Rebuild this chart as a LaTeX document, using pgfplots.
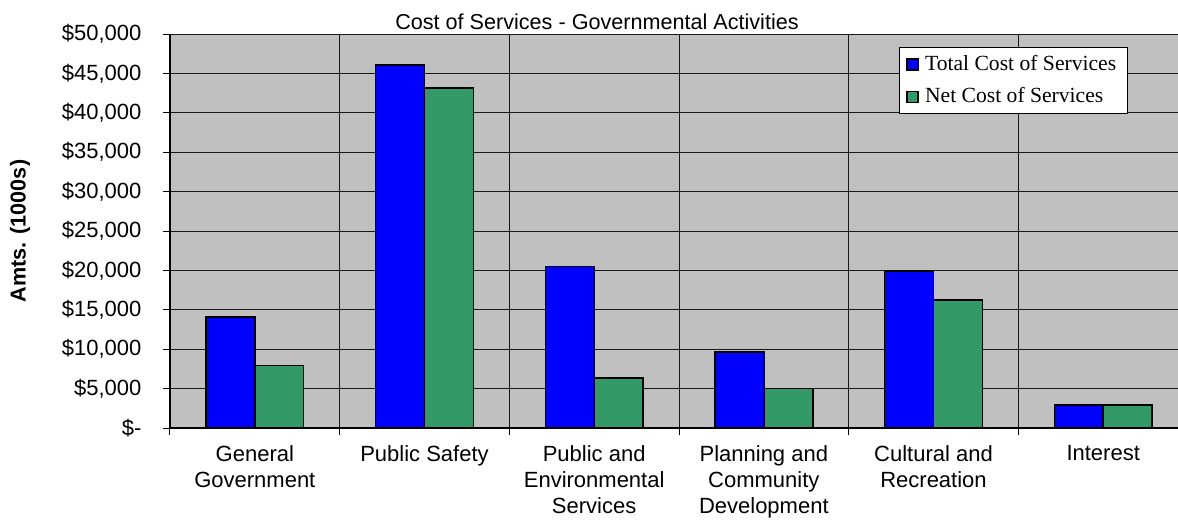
\documentclass[border=0pt]{standalone}
\usepackage{pgfplots}
\pgfplotsset{compat=1.18}
\usepackage{fontspec}
\setmainfont{Liberation Sans}
\newfontfamily\legendfont{Liberation Serif}
\definecolor{barblue}{HTML}{0000FF}
\definecolor{bargreen}{HTML}{339966}
\definecolor{plotgray}{HTML}{C0C0C0}
\begin{document}
\begin{tikzpicture}
\begin{axis}[
  at={(0,0)}, anchor=south west,
  scale only axis, width=504pt, height=197pt,
  xmin=-0.5, xmax=5.441, ymin=0, ymax=50000,
  axis x line*=bottom, axis y line*=left,
  axis line style={-, black, line width=0.6pt},
  axis background/.style={fill=plotgray},
  tick align=outside, major tick length=3.3pt,
  tick style={black, line width=0.5pt},
  xtick={-0.5,0.5,...,4.5}, xticklabels={{},{},{},{},{},{}},
  extra x ticks={0,1,2,3,4,5},
  extra x tick labels={{General\\Government},{Public Safety},{Public and\\Environmental\\Services},{Planning and\\Community\\Development},{Cultural and\\Recreation},{Interest}},
  extra x tick style={grid=none, major tick length=0pt, tick style={draw=none}},
  xticklabel style={align=center, anchor=north, font=\fontsize{11}{13}\selectfont, yshift=-5pt},
  scaled y ticks=false,
  ytick={0,5000,...,50000},
  yticklabels={{\$-},{\$5,000},{\$10,000},{\$15,000},{\$20,000},{\$25,000},{\$30,000},{\$35,000},{\$40,000},{\$45,000},{\$50,000}},
  yticklabel style={font=\fontsize{11}{13}\selectfont},
  yticklabel shift=7.5pt,
  grid=major, major grid style={black!90, line width=0.5pt},
  title={Cost of Services - Governmental Activities},
  title style={at={(axis description cs:0.4236,1)}, anchor=base, yshift=-3.5pt, font=\fontsize{10.8}{13}\selectfont},
  ylabel={Amts. (1000s)},
  ylabel style={at={(axis description cs:-0.1488,0.5)}, anchor=center, font=\bfseries\fontsize{10.8}{13}\selectfont},
  legend style={at={(axis description cs:0.7232,0.967)}, anchor=north west, draw=black, line width=0.5pt, fill=white,
    font=\legendfont\fontsize{10.8}{13}\selectfont, inner xsep=3.5pt, inner ysep=2pt, row sep=3pt,
    /tikz/every odd column/.append style={column sep=1pt}},
  legend cell align=left,
]
\addplot[ybar, bar width=0.288, bar shift=-0.144, fill=barblue, draw=black, line width=0.8pt,
  legend image code/.code={\draw[fill=barblue, draw=black, line width=0.8pt] (0pt,-2.75pt) rectangle (5.5pt,2.75pt);}]
  coordinates {(0,14100) (1,46050) (2,20500) (3,9620) (4,19900) (5,2930)};
\addlegendentry{Total Cost of Services}
\addplot[ybar, bar width=0.288, bar shift=0.144, fill=bargreen, draw=black, line width=0.8pt,
  legend image code/.code={\draw[fill=bargreen, draw=black, line width=0.8pt] (0pt,-2.75pt) rectangle (5.5pt,2.75pt);}]
  coordinates {(0,7920) (1,43140) (2,6310) (3,5000) (4,16230) (5,2930)};
\addlegendentry{Net Cost of Services}
\end{axis}
\pgfresetboundingbox
\useasboundingbox (-85pt,-46.5pt) rectangle (504pt,214pt);
\end{tikzpicture}
\end{document}
